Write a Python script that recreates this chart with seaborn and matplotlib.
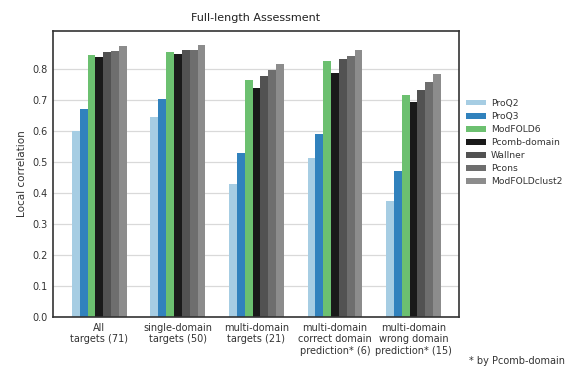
import matplotlib
matplotlib.use("Agg")
import matplotlib.pyplot as plt
import seaborn as sns
import pandas as pd

categories = [
    "All\ntargets (71)",
    "single-domain\ntargets (50)",
    "multi-domain\ntargets (21)",
    "multi-domain\ncorrect domain\nprediction* (6)",
    "multi-domain\nwrong domain\nprediction* (15)",
]
methods = ["ProQ2", "ProQ3", "ModFOLD6", "Pcomb-domain", "Wallner", "Pcons", "ModFOLDclust2"]

proq2 = [0.600, 0.646, 0.430, 0.513, 0.375]
proq3 = [0.672, 0.704, 0.528, 0.591, 0.471]
modfold6 = [0.845, 0.854, 0.764, 0.825, 0.715]
pcomb_domain = [0.839, 0.850, 0.739, 0.787, 0.695]
wallner = [0.854, 0.861, 0.778, 0.833, 0.733]
pcons = [0.858, 0.861, 0.796, 0.841, 0.758]
modfoldclust2 = [0.876, 0.879, 0.816, 0.862, 0.785]

colors = ["#a6cde3", "#3182bd", "#6cc070", "#1a1a1a", "#525252", "#6e6e6e", "#8c8c8c"]

series = [proq2, proq3, modfold6, pcomb_domain, wallner, pcons, modfoldclust2]
rows = []
for m, vals in zip(methods, series):
    for c, v in zip(categories, vals):
        rows.append({"category": c, "method": m, "value": v})
df = pd.DataFrame(rows)

sns.set_style("whitegrid")
plt.rcParams["font.family"] = ["DejaVu Sans"]

fig = plt.figure(figsize=(5.68, 3.67), dpi=100)
ax = fig.add_axes([0.0933, 0.136, 0.715, 0.7795])

sns.barplot(data=df, x="category", y="value", hue="method", hue_order=methods,
            order=categories, palette=colors, width=0.7, gap=0, linewidth=0,
            saturation=1, ax=ax)

ax.set_xlim(-0.59, 4.58)
ax.set_ylim(0, 0.923)
ax.set_yticks([0.0, 0.1, 0.2, 0.3, 0.4, 0.5, 0.6, 0.7, 0.8])
ax.grid(axis="x", visible=False)
ax.grid(axis="y", color="#d9d9d9", linewidth=0.9)
ax.set_axisbelow(True)
for s in ax.spines.values():
    s.set_color("#333333")
    s.set_linewidth(1.2)

ax.tick_params(axis="both", labelsize=7, colors="#333333", length=0, pad=4)
ax.set_xlabel("")
ax.set_ylabel("Local correlation", fontsize=7.5, color="#333333")
ax.set_title("Full-length Assessment", fontsize=8, color="#222222", pad=7)

leg = ax.legend(loc="center left", bbox_to_anchor=(1.0, 0.61), frameon=False,
                fontsize=6.6, handlelength=2.1, handleheight=0.6,
                handletextpad=0.6, labelspacing=0.45, borderaxespad=0.4)
for t in leg.get_texts():
    t.set_color("#333333")

fig.text(0.826, 0.008, "* by Pcomb-domain", fontsize=7, color="#333333")

fig.savefig("out.png", dpi=100)
